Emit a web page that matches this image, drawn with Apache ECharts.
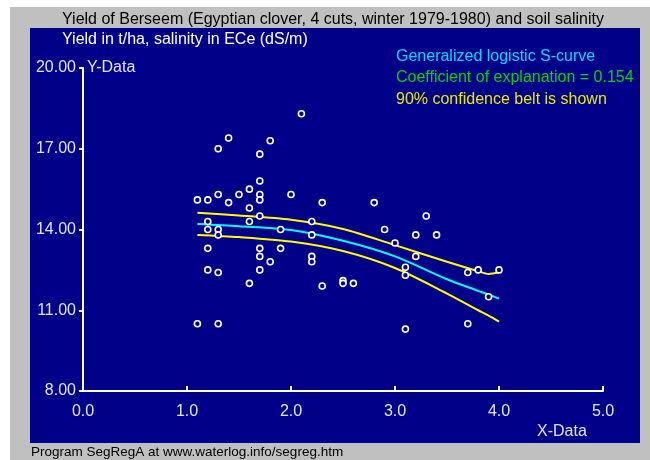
<!DOCTYPE html>
<html>
<head>
<meta charset="utf-8">
<script src="https://cdn.jsdelivr.net/npm/echarts@6/dist/echarts.min.js"></script>
<style>
  html, body { margin: 0; padding: 0; background: #fff; }
  #main { width: 650px; height: 460px; }
</style>
</head>
<body>
<div id="main"></div>
<script>
// salinity ECe (dS/m) and yield (t/ha) of the observations
var salinity = [1.1, 1.1, 1.2, 1.2, 1.2, 1.2, 1.2, 1.3, 1.3, 1.3, 1.3, 1.3, 1.3, 1.4, 1.4,
    1.5, 1.6, 1.6, 1.6, 1.6, 1.7, 1.7, 1.7, 1.7, 1.7, 1.7, 1.7, 1.7, 1.8, 1.8,
    1.9, 1.9, 2.0, 2.1, 2.2, 2.2, 2.2, 2.2, 2.3, 2.3, 2.5, 2.5, 2.6, 2.8, 2.9,
    3.0, 3.1, 3.1, 3.1, 3.2, 3.2, 3.3, 3.4, 3.7, 3.7, 3.8, 3.9, 4.0];
var yieldVals = [15.1, 10.5, 15.1, 14.3, 14.0, 13.3, 12.5, 17.0, 15.3, 14.0, 13.8, 12.4, 10.5, 17.4, 15.0,
    15.3, 15.5, 14.8, 14.3, 12.0, 16.8, 15.8, 15.3, 15.1, 14.5, 13.3, 13.0, 12.5, 17.3, 12.8,
    14.0, 13.3, 15.3, 18.3, 14.3, 13.8, 13.0, 12.8, 15.0, 11.9, 12.1, 12.0, 12.0, 15.0, 14.0,
    13.5, 12.6, 12.3, 10.3, 13.8, 13.0, 14.5, 13.8, 12.4, 10.5, 12.5, 11.5, 12.5];

// fitted S-curve and 90% confidence belt
var curveX = [1.1, 1.5, 2.0, 2.5, 3.0, 3.5, 3.8, 3.9, 4.0];
var curveMid = [14.2, 14.12, 13.98, 13.58, 13.0, 12.15, 11.72, 11.58, 11.43];
var curveUp = [14.62, 14.52, 14.36, 14.02, 13.42, 12.8, 12.45, 12.35, 12.4];
var curveLow = [13.8, 13.72, 13.55, 13.2, 12.57, 11.62, 11.0, 10.8, 10.58];

var xTicks = [0, 1, 2, 3, 4, 5];
var yTicks = [8, 11, 14, 17, 20];

function pairs(xs, ys) {
    var out = [];
    for (var i = 0; i < xs.length; i++) out.push([xs[i], ys[i]]);
    return out;
}

var myChart = echarts.init(document.getElementById('main'));
var lblColor = '#e4e4fa';
var font = 'Liberation Sans, Arial, sans-serif';

function txt(x, y, s, color, size) {
    return {
        type: 'text', x: x, y: y, z: 10,
        style: {text: s, fill: color, font: (size || 16) + 'px ' + font, verticalAlign: 'middle'}
    };
}

var option = {
    backgroundColor: '#fff',
    animation: false,
    graphic: [
        {type: 'rect', z: -20, shape: {x: 10, y: 7, width: 640, height: 453}, style: {fill: '#c0c0c0'}},
        {type: 'rect', z: -10, shape: {x: 30, y: 28, width: 610, height: 415}, style: {fill: '#000088'}},
        txt(62, 20, 'Yield of Berseem (Egyptian clover, 4 cuts, winter 1979-1980) and soil salinity', '#000'),
        txt(62, 40, 'Yield in t/ha, salinity in ECe (dS/m)', '#fff'),
        txt(396, 57, 'Generalized logistic S-curve', '#00dcff'),
        txt(396, 78, 'Coefficient of explanation = 0.154', '#00d800'),
        txt(396, 100, '90% confidence belt is shown', '#e8e800'),
        txt(87, 68, 'Y-Data', lblColor),
        txt(537, 432, 'X-Data', lblColor),
        txt(31, 452, 'Program SegRegA at www.waterlog.info/segreg.htm', '#000', 13.5)
    ],
    grid: {left: 83, right: 47, top: 68, bottom: 69},
    xAxis: {
        type: 'value',
        min: xTicks[0],
        max: xTicks[xTicks.length - 1],
        interval: 1,
        axisLine: {lineStyle: {color: '#fff', width: 2}},
        axisTick: {inside: true, length: 5, lineStyle: {color: '#fff', width: 2}},
        axisLabel: {color: lblColor, fontSize: 16, fontFamily: font, margin: 13,
            formatter: function (v) { return v.toFixed(1); }},
        splitLine: {show: false}
    },
    yAxis: {
        type: 'value',
        min: yTicks[0],
        max: yTicks[yTicks.length - 1],
        interval: 3,
        axisLine: {lineStyle: {color: '#fff', width: 2}},
        axisTick: {length: 4, lineStyle: {color: '#fff', width: 2}},
        axisLabel: {color: lblColor, fontSize: 16, fontFamily: font, margin: 7,
            formatter: function (v) { return v.toFixed(2); }},
        splitLine: {show: false}
    },
    series: [
        {
            type: 'line', data: pairs(curveX, curveUp), smooth: 0.3, symbol: 'none',
            lineStyle: {color: '#ffff00', width: 2}, z: 2
        },
        {
            type: 'line', data: pairs(curveX, curveLow), smooth: 0.3, symbol: 'none',
            lineStyle: {color: '#ffff00', width: 2}, z: 2
        },
        {
            type: 'line', data: pairs(curveX, curveMid), smooth: 0.3, symbol: 'none',
            lineStyle: {color: '#00ffff', width: 2}, z: 3
        },
        {
            type: 'scatter', data: pairs(salinity, yieldVals), symbol: 'circle', symbolSize: 6,
            itemStyle: {color: '#000088', borderColor: '#fff', borderWidth: 1.6, opacity: 1}, z: 4
        }
    ]
};

myChart.setOption(option);
</script>
</body>
</html>
